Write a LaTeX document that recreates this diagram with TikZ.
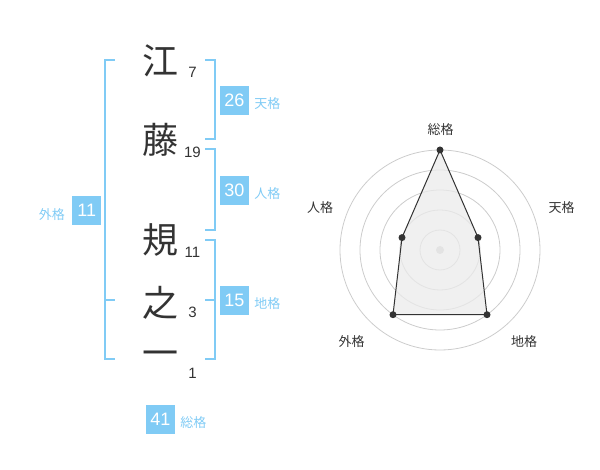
\documentclass[tikz,border=0pt]{standalone}
\usepackage{fontspec}
\setmainfont{Liberation Sans}
\newfontfamily\cjk{Noto Sans CJK JP}
\usetikzlibrary{positioning}
\definecolor{kakusky}{HTML}{80CBF5}
\definecolor{kakuink}{HTML}{333333}
\tikzset{
	kanji/.style={font=\cjk\fontsize{36}{36}\selectfont, text=kakuink, inner sep=0pt},
	strokes/.style={font=\fontsize{15}{15}\selectfont, text=kakuink, inner sep=0pt},
	kakubox/.style={fill=kakusky, text=white, minimum size=28.7pt, inner sep=0pt, font=\fontsize{18}{18}\selectfont},
	kakuname/.style={text=kakusky, inner sep=0pt, font=\cjk\fontsize{13}{13}\selectfont},
	bracket/.style={draw=kakusky, line width=2pt},
	ring/.style={draw=black!20, line width=0.8pt},
	axisname/.style={text=kakuink, inner sep=0pt, font=\cjk\fontsize{13}{13}\selectfont},
	vertex/.style={circle, fill=kakuink, inner sep=0pt, minimum size=7pt},
}
\begin{document}
\begin{tikzpicture}[x=1pt, y=-1pt]
		\begingroup
		\useasboundingbox (0,0) rectangle (600,470);
		
		\node[kanji] (k1) at (160, 61) {江};
		\node[kanji] (k2) at (160, 140) {藤};
		\node[kanji] (k3) at (160, 240) {規};
		\node[kanji] (k4) at (160, 303) {之};
		\node[kanji] (k5) at (160, 359) {一};
		
		\node[strokes] (n1) at (192.5, 72.6) {7};
		\node[strokes] (n2) at (192.5, 152.7) {19};
		\node[strokes] (n3) at (192.5, 252.7) {11};
		\node[strokes] (n4) at (192.5, 312.7) {3};
		\node[strokes] (n5) at (192.5, 373) {1};
		
		\draw[bracket] (115, 60) -| (105, 359.3) -- (115, 359.3);
		\draw[bracket] (105, 300) -- (115, 300);
		\draw[bracket] (205, 60) -| (215, 139.3) -- (205, 139.3);
		\draw[bracket] (205, 149.3) -| (215, 230) -- (205, 230);
		\draw[bracket] (205, 240) -| (215, 359.3) -- (205, 359.3);
		\draw[bracket] (205, 300) -- (215, 300);
		
		\node[kakubox] (ten) at (234.3, 100.3) {26};
		\node[kakubox] (jin) at (234.3, 190.3) {30};
		\node[kakubox] (chi) at (234.3, 300.3) {15};
		\node[kakubox] (gai) at (86.7, 210.3) {11};
		\node[kakubox] (sou) at (160.5, 419.2) {41};
		
		\node[kakuname, right=5.3pt of ten, yshift=-3pt] (tenname) {天格};
		\node[kakuname, right=5.3pt of jin, yshift=-3pt] (jinname) {人格};
		\node[kakuname, right=5.3pt of chi, yshift=-3pt] (chiname) {地格};
		\node[kakuname, left=7pt of gai, yshift=-4pt] (gainame) {外格};
		\node[kakuname, right=5pt of sou, yshift=-3.5pt] (souname) {総格};
		
		\coordinate (o) at (440, 250);
		\foreach \r in {20,40,60,80,100}
			\draw[ring] (o) circle (\r pt);
		\node[circle, fill=black!20, inner sep=0pt, minimum size=8pt] (hub) at (o) {};
		
		\coordinate (psou) at (440, 150);
		\coordinate (pten) at (478.0, 237.6);
		\coordinate (pchi) at (487.0, 314.7);
		\coordinate (pgai) at (393.0, 314.7);
		\coordinate (pjin) at (402.0, 237.6);
		\draw[kakuink, line width=1pt, fill=black!8, fill opacity=0.75] (psou) -- (pten) -- (pchi) -- (pgai) -- (pjin) -- cycle;
		\foreach \p in {psou,pten,pchi,pgai,pjin}
			\node[vertex] at (\p) {};
		
		\node[axisname] (asou) at (440.7, 130) {総格};
		\node[axisname] (aten) at (561.7, 208) {天格};
		\node[axisname] (ajin) at (320, 208) {人格};
		\node[axisname] (achi) at (524, 341.7) {地格};
		\node[axisname] (agai) at (351.7, 341.7) {外格};
		\endgroup
		\end{tikzpicture}
\end{document}
